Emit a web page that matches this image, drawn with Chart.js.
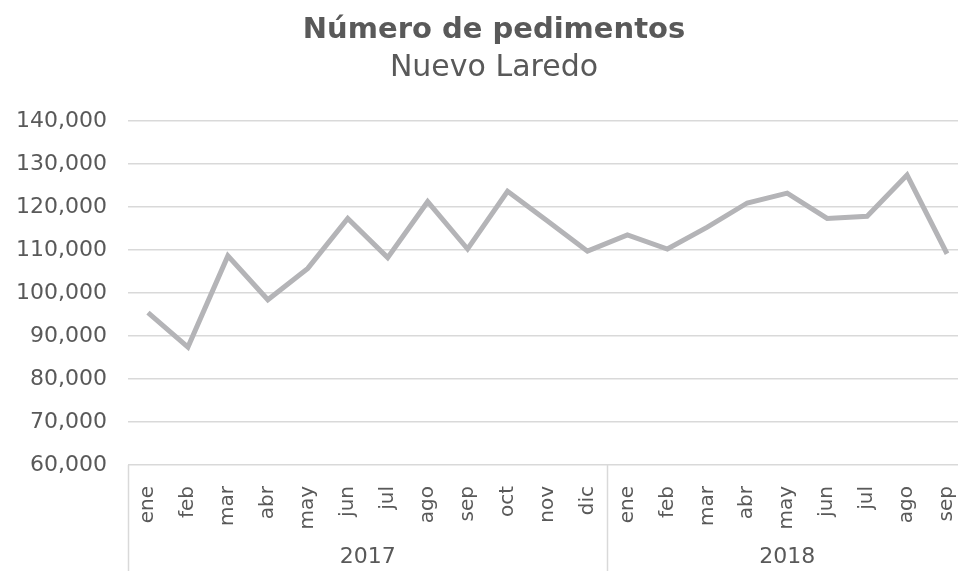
<!DOCTYPE html>
<html lang="es">
<head>
<meta charset="utf-8">
<title>Número de pedimentos - Nuevo Laredo</title>
<script src="https://cdn.jsdelivr.net/npm/chart.js@4"></script>
<style>
  html, body { margin: 0; padding: 0; background: #ffffff; overflow: hidden; }
  #wrap { position: relative; width: 988px; height: 571px; }
</style>
</head>
<body>
<div id="wrap"><canvas id="pedimentosChart"></canvas></div>
<script>
// Datos
const months = ['ene', 'feb', 'mar', 'abr', 'may', 'jun', 'jul', 'ago', 'sep', 'oct', 'nov', 'dic',
                'ene', 'feb', 'mar', 'abr', 'may', 'jun', 'jul', 'ago', 'sep'];
const years = ['2017', '2018'];
const monthsPerYear = [12, 9];
const pedimentos = [95400, 87400, 108600, 98400, 105700, 117300, 108200, 121200, 110200, 123600, 116700, 109700,
                    113500, 110200, 115300, 120900, 123200, 117300, 117800, 127400, 109100];

const FONT = "'DejaVu Sans', sans-serif";
const TEXT = '#595959';
const GRID = '#d9d9d9';

// Dibuja las etiquetas de año y los separadores bajo el eje X
const yearGroupsPlugin = {
  id: 'yearGroups',
  afterDraw(chart) {
    const x = chart.scales.x;
    const area = chart.chartArea;
    const ctx = chart.ctx;
    const step = x.getPixelForValue(1) - x.getPixelForValue(0);
    let start = 0;
    ctx.save();
    ctx.strokeStyle = GRID;
    ctx.lineWidth = 1.5;
    ctx.fillStyle = TEXT;
    ctx.font = '22px ' + FONT;
    ctx.textAlign = 'center';
    ctx.textBaseline = 'middle';
    years.forEach((year, i) => {
      const left = x.getPixelForValue(start) - step / 2;
      const right = x.getPixelForValue(start + monthsPerYear[i] - 1) + step / 2;
      ctx.beginPath();
      ctx.moveTo(Math.round(left) + 0.5, area.bottom);
      ctx.lineTo(Math.round(left) + 0.5, chart.height);
      ctx.stroke();
      ctx.fillText(year, (left + right) / 2, 557);
      start += monthsPerYear[i];
    });
    ctx.restore();
  }
};

const ctx = document.getElementById('pedimentosChart');
new Chart(ctx, {
  type: 'line',
  data: {
    labels: months,
    datasets: [{
      data: pedimentos,
      borderColor: '#b4b4b7',
      borderWidth: 5,
      borderJoinStyle: 'miter',
      pointRadius: 0,
      tension: 0,
      fill: false
    }]
  },
  options: {
    responsive: true,
    maintainAspectRatio: false,
    animation: false,
    layout: { padding: 0 },
    plugins: {
      legend: { display: false },
      tooltip: { enabled: false },
      title: {
        display: true,
        text: 'Número de pedimentos',
        color: TEXT,
        font: { family: FONT, size: 29, weight: 'bold' },
        padding: { top: 13, bottom: 2 }
      },
      subtitle: {
        display: true,
        text: 'Nuevo Laredo',
        color: TEXT,
        font: { family: FONT, size: 30, weight: 'normal' },
        padding: { top: 0, bottom: 35 }
      }
    },
    scales: {
      x: {
        offset: true,
        grid: { display: false },
        border: { display: false },
        ticks: {
          autoSkip: false,
          maxRotation: 90,
          minRotation: 90,
          padding: 13,
          color: TEXT,
          font: { family: FONT, size: 20 }
        },
        afterFit(scale) {
          scale.height = 106;
          // el área de trazo llega hasta el borde derecho, como en el original
          scale.paddingLeft = 0;
          scale.paddingRight = 0;
        }
      },
      y: {
        min: 60000,
        max: 140000,
        border: { display: false },
        grid: { color: GRID, lineWidth: 1.5, drawTicks: false },
        ticks: {
          stepSize: 10000,
          padding: 21,
          color: TEXT,
          font: { family: FONT, size: 22 },
          callback: value => value.toLocaleString('en-US')
        },
        afterFit(scale) { scale.width = 128; }
      },
      // eje vacío a la derecha: reserva el margen fuera de la ventana y centra el título como en el original
      yRight: {
        position: 'right',
        min: 60000,
        max: 140000,
        grid: { display: false },
        border: { display: false },
        ticks: { display: false },
        afterFit(scale) { scale.width = 21; }
      }
    }
  },
  plugins: [yearGroupsPlugin]
});
</script>
</body>
</html>
